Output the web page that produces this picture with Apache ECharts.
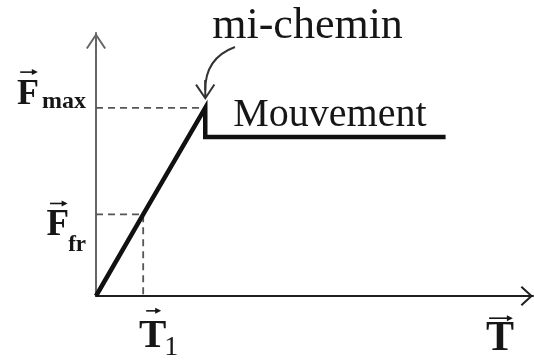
<!DOCTYPE html>
<html>
<head>
<meta charset="utf-8">
<script src="https://cdn.jsdelivr.net/npm/echarts@6/dist/echarts.min.js"></script>
<style>
  html, body { margin: 0; padding: 0; background: #fff; }
  #chart { width: 534px; height: 362px; }
</style>
</head>
<body>
<div id="chart"></div>
<script>
// Friction force F against the applied pull T: static friction grows with T
// up to F_max, then drops to the sliding level once the block starts moving.
const pullValues  = [0, 1.08, 2.5, 2.5, 8];        // T (arbitrary units)
const forceValues = [0, 3.1, 7.15, 6.05, 6.05];    // F (arbitrary units)

// Vector labels on the axes: [letter, subscript]
const forceTickLabels = [['F', 'max'], ['F', 'fr']];
const pullTickLabels  = [['T', '1']];
const pullAxisName    = ['T', ''];
const noteLabels      = ['mi-chemin', 'Mouvement'];

const T1 = pullValues[1], Ffr = forceValues[1];
const Tpeak = pullValues[2], Fmax = forceValues[2], Fslide = forceValues[3];

const SERIF = '"Liberation Serif", "Times New Roman", serif';
const INK = '#161616';

// Open arrow head (chevron plus a short stem) as an SVG path, tip at the top.
function chevronPath(w, d, t, h) {
  const L = Math.sqrt((w / 2) * (w / 2) + d * d);
  const qx = w - t * d / L, qy = d + t * w / (2 * L);
  const s = (w / 2 - t / 2 - t * d / L) * 2 * L / w;
  const jy = qy - s * d / L;
  const r = (v) => v.toFixed(3);
  return 'path://M' + r(w / 2) + ',0 L' + r(w) + ',' + r(d) +
    ' L' + r(qx) + ',' + r(qy) + ' L' + r(w / 2 + t / 2) + ',' + r(jy) +
    ' L' + r(w / 2 + t / 2) + ',' + r(h) + ' L' + r(w / 2 - t / 2) + ',' + r(h) +
    ' L' + r(w / 2 - t / 2) + ',' + r(jy) + ' L' + r(w - qx) + ',' + r(qy) +
    ' L0,' + r(d) + ' Z';
}

const yHead = chevronPath(20, 15, 2, 18);
const xHead = chevronPath(20, 11, 2, 14);
const noteHead = chevronPath(20, 15, 2, 20);

const chart = echarts.init(document.getElementById('chart'), null, { renderer: 'canvas' });

chart.setOption({
  animation: false,
  backgroundColor: '#fff',
  grid: { left: 96, right: 1, top: 33, bottom: 66 },
  xAxis: {
    type: 'value', min: 0, max: 10,
    axisLine: {
      lineStyle: { color: '#1e1e1e', width: 2 },
      symbol: ['none', xHead], symbolSize: [20, 14], symbolOffset: [0, -7]
    },
    axisTick: { show: false }, axisLabel: { show: false }, splitLine: { show: false }
  },
  yAxis: {
    type: 'value', min: 0, max: 10,
    axisLine: {
      lineStyle: { color: '#666', width: 2 },
      symbol: ['none', yHead], symbolSize: [20, 18], symbolOffset: [0, -9]
    },
    axisTick: { show: false }, axisLabel: { show: false }, splitLine: { show: false }
  },
  series: [
    {
      type: 'line', symbol: 'none', z: 5,
      data: pullValues.map((t, i) => [t, forceValues[i]]),
      lineStyle: { color: '#111', width: 4.5, join: 'miter', cap: 'butt' }
    },
    {
      type: 'line', symbol: 'none', z: 3,
      data: [[0, Fmax], [Tpeak, Fmax]],
      lineStyle: { color: '#555', width: 1.8, type: [7, 5] }
    },
    {
      type: 'line', symbol: 'none', z: 3,
      data: [[0, Ffr], [T1, Ffr], [T1, 0]],
      lineStyle: { color: '#555', width: 1.8, type: [7, 5] }
    },
    {
      type: 'lines', coordinateSystem: 'cartesian2d', z: 6,
      symbol: ['none', noteHead], symbolSize: 20,
      lineStyle: { color: '#333', width: 2, opacity: 1, curveness: -0.35 },
      data: [{ coords: [[Tpeak + 0.68, Fmax + 2.32], [Tpeak, Fmax + 0.68]] }]
    }
  ]
});

// ---- text annotations, placed from the data through the grid ----
const measure = document.createElement('canvas').getContext('2d');
function textWidth(str, font) { measure.font = font; return measure.measureText(str).width; }
const px = (x, y) => chart.convertToPixel({ gridIndex: 0 }, [x, y]);

const els = [];
function addText(x, baseline, str, size, bold, align) {
  els.push({
    type: 'text', x: x, y: baseline - 0.3 * size, silent: true,
    style: {
      text: str, fill: INK, font: (bold ? 'bold ' : '') + size + 'px ' + SERIF,
      textAlign: align || 'left', textVerticalAlign: 'middle', verticalAlign: 'middle'
    }
  });
}
function addVecArrow(cx, y, len) {
  const x1 = cx - len / 2, x2 = cx + len / 2;
  els.push({ type: 'line', silent: true, shape: { x1: x1, y1: y, x2: x2 - 3, y2: y },
    style: { stroke: INK, lineWidth: 1.6 } });
  els.push({ type: 'polygon', silent: true,
    shape: { points: [[x2, y], [x2 - 6, y - 3], [x2 - 6, y + 3]] }, style: { fill: INK } });
}
// letter with a vector arrow above it and an optional subscript
function vecLabel(left, baseline, pair, o) {
  const wMain = textWidth(pair[0], 'bold ' + o.size + 'px ' + SERIF);
  addText(left, baseline, pair[0], o.size, true);
  if (pair[1]) addText(left + wMain - 1 + (o.subGap || 0), o.subBaseline, pair[1], o.sub, o.subBold !== false);
  addVecArrow(left + wMain / 2 + 1, baseline - 0.662 * o.size - o.gap, wMain * o.arrow);
}

function drawAnnotations() {
  els.length = 0;
  // force levels on the vertical axis, right-aligned against it
  const fLayout = [
    { value: Fmax, size: 36, sub: 24, subGap: 4, dy: -2, subDy: 1, arrow: 0.8, gap: 10 },
    { value: Ffr,  size: 37, sub: 23, subGap: 0, dy: 22.5, subDy: 37.5, arrow: 0.78, gap: 9 }
  ];
  fLayout.forEach((l, i) => {
    const a = px(0, l.value);
    const pair = forceTickLabels[i];
    const w = textWidth(pair[0], 'bold ' + l.size + 'px ' + SERIF) - 1 + l.subGap +
              textWidth(pair[1], 'bold ' + l.sub + 'px ' + SERIF);
    vecLabel(a[0] - 10 - w, a[1] + l.dy, pair,
      { size: l.size, sub: l.sub, subGap: l.subGap, subBaseline: a[1] + l.subDy, arrow: l.arrow, gap: l.gap });
  });
  // T1 under the horizontal axis
  const t1 = px(T1, 0);
  const wT = textWidth('T', 'bold 41px ' + SERIF);
  vecLabel(t1[0] + 9.5 - wT / 2, t1[1] + 53, pullTickLabels[0],
    { size: 41, sub: 28, subBold: false, subGap: -1, subBaseline: t1[1] + 60, arrow: 0.55, gap: 11 });
  // axis name T at the end of the horizontal axis
  const tEnd = px(10, 0);
  const wT2 = textWidth('T', 'bold 42px ' + SERIF);
  vecLabel(tEnd[0] - 33 - wT2 / 2, tEnd[1] + 56, pullAxisName,
    { size: 42, arrow: 0.85, gap: 6 });
  // notes
  const peak = px(Tpeak, Fmax);
  addText(peak[0] + 7, peak[1] - 68, noteLabels[0], 44, false);
  const slide = px(Tpeak, Fslide);
  addText(slide[0] + 28, slide[1] - 9, noteLabels[1], 40, false);
  chart.setOption({ graphic: { elements: els } });
}
drawAnnotations();
</script>
</body>
</html>
